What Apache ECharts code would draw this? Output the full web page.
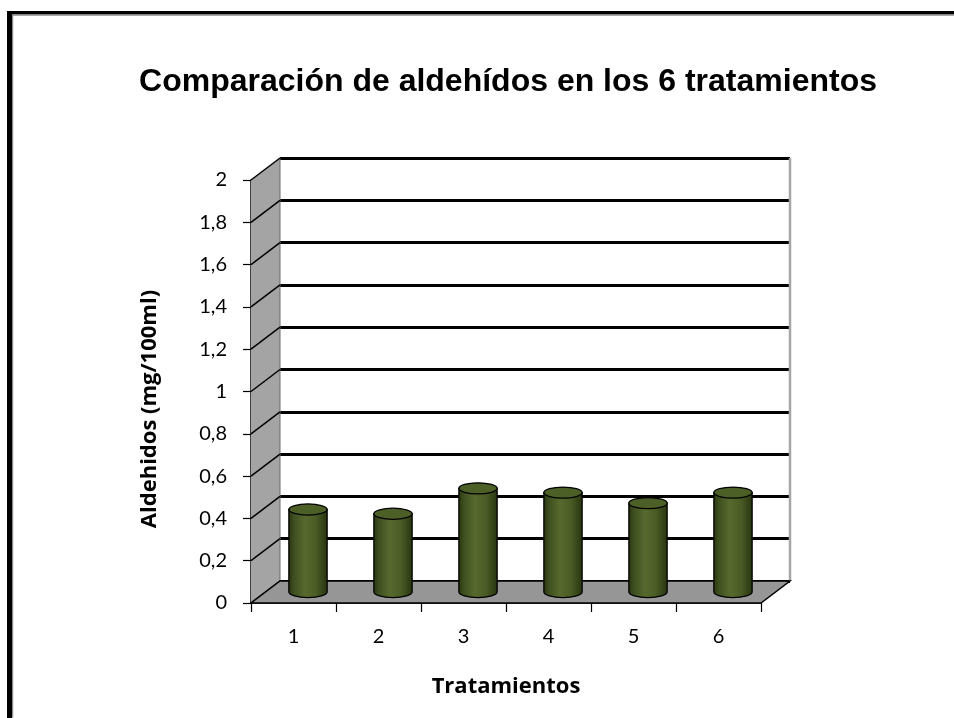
<!DOCTYPE html>
<html>
<head>
<meta charset="utf-8">
<script src="https://cdn.jsdelivr.net/npm/echarts@6/dist/echarts.min.js"></script>
<style>
html,body{margin:0;padding:0;background:#fff;}
#chart{width:954px;height:718px;}
</style>
</head>
<body>
<div id="chart"></div>
<script>
// ---- data ----
const categories = ['1', '2', '3', '4', '5', '6'];
const aldehidos = [0.39, 0.37, 0.49, 0.47, 0.42, 0.47];
const yTickValues = [0, 0.2, 0.4, 0.6, 0.8, 1, 1.2, 1.4, 1.6, 1.8, 2];
const titleText = 'Comparación de aldehídos en los 6 tratamientos';
const yName = 'Aldehidos (mg/100ml)';
const xName = 'Tratamientos';

// ---- layout / style ----
const DX = 29, DY = 22;
const FRONT = { left: 251, top: 180, width: 510, height: 423 };
const BACK = { left: FRONT.left + DX, top: FRONT.top - DY, width: FRONT.width, height: FRONT.height };
const labelFont = 'Lato, "Open Sans", sans-serif';
const nameFont = '"Open Sans", Lato, sans-serif';

const chart = echarts.init(document.getElementById('chart'), null, { renderer: 'canvas' });

function fmt(v) {
  return String(Math.round(v * 10) / 10).replace('.', ',');
}

const option = {
  backgroundColor: '#fff',
  animation: false,
  title: {
    text: titleText,
    left: 508,
    top: 66,
    textAlign: 'center',
    padding: 0,
    textStyle: { fontFamily: '"Liberation Sans", Arial, sans-serif', fontWeight: 'bold', fontSize: 32, color: '#000' }
  },
  graphic: [
    { type: 'rect', shape: { x: 7, y: 11, width: 5, height: 707 }, style: { fill: '#000' }, z: 10 },
    { type: 'rect', shape: { x: 7, y: 11, width: 947, height: 3.5 }, style: { fill: '#000' }, z: 10 },
    { type: 'rect', shape: { x: 12, y: 14.5, width: 1.2, height: 703 }, style: { fill: '#8c8c8c' }, z: 10 },
    { type: 'rect', shape: { x: 12, y: 14.5, width: 942, height: 1.2 }, style: { fill: '#8c8c8c' }, z: 10 }
  ],
  grid: [
    Object.assign({ containLabel: false }, FRONT),
    Object.assign({ containLabel: false }, BACK)
  ],
  xAxis: [
    {
      gridIndex: 0,
      type: 'category',
      data: categories,
      boundaryGap: true,
      axisLine: { show: true, lineStyle: { color: '#000', width: 1.5 } },
      axisTick: { show: true, length: 9, lineStyle: { color: '#000', width: 1.2 } },
      axisLabel: { margin: 24, fontFamily: labelFont, fontSize: 20, color: '#000' },
      splitLine: { show: false },
      name: xName,
      nameLocation: 'middle',
      nameGap: 73,
      nameTextStyle: { fontFamily: nameFont, fontWeight: 'bold', fontSize: 22, color: '#000' }
    },
    {
      gridIndex: 1,
      type: 'category',
      data: categories,
      show: false
    }
  ],
  yAxis: [
    {
      gridIndex: 0,
      type: 'value',
      min: 0,
      max: 2,
      interval: 0.2,
      axisLine: { show: true, lineStyle: { color: '#000', width: 1.5 } },
      axisTick: { show: true, length: 8, lineStyle: { color: '#000', width: 1.2 } },
      axisLabel: { margin: 24, fontFamily: labelFont, fontSize: 20, color: '#000', formatter: fmt },
      splitLine: { show: false },
      name: yName,
      nameLocation: 'middle',
      nameGap: 90,
      nameTextStyle: { fontFamily: nameFont, fontWeight: 'bold', fontSize: 22, color: '#000', padding: [0, 35, 0, 0] }
    },
    {
      gridIndex: 1,
      type: 'value',
      min: 0,
      max: 2,
      interval: 0.2,
      axisLine: { show: false },
      axisTick: { show: false },
      axisLabel: { show: false },
      splitLine: { show: true, lineStyle: { color: '#000', width: 3 } }
    }
  ],
  series: [
    {
      // walls and floor of the 3D frame
      type: 'custom',
      xAxisIndex: 0,
      yAxisIndex: 0,
      z: 1,
      silent: true,
      data: [[0, 0]],
      renderItem: function (params, api) {
        const cs = params.coordSys;
        const x0 = cs.x, y0 = cs.y, x1 = cs.x + cs.width, yb = cs.y + cs.height;
        const children = [];
        children.push({
          type: 'polygon',
          shape: { points: [[x0, yb], [x0, y0], [x0 + DX, y0 - DY], [x0 + DX, yb - DY]] },
          style: { fill: '#a4a4a4', stroke: null }
        });
        children.push({
          type: 'line',
          shape: { x1: x0 + DX, y1: y0 - DY, x2: x0 + DX, y2: yb - DY },
          style: { stroke: '#6a6a6a', lineWidth: 1 }
        });
        children.push({
          type: 'line',
          shape: { x1: x1 + DX, y1: y0 - DY, x2: x1 + DX, y2: yb - DY },
          style: { stroke: '#a6a6a6', lineWidth: 2.5 }
        });
        yTickValues.forEach(function (v) {
          const p = api.coord([0, v]);
          children.push({
            type: 'line',
            shape: { x1: x0, y1: p[1], x2: x0 + DX, y2: p[1] - DY },
            style: { stroke: '#000', lineWidth: 1.5 }
          });
        });
        children.push({
          type: 'polygon',
          shape: { points: [[x0, yb], [x1, yb], [x1 + DX, yb - DY], [x0 + DX, yb - DY]] },
          style: { fill: '#969696', stroke: '#000', lineWidth: 1.5 }
        });
        return { type: 'group', children: children };
      }
    },
    {
      // cylinders
      type: 'custom',
      name: 'Aldehidos',
      xAxisIndex: 0,
      yAxisIndex: 0,
      z: 5,
      data: aldehidos.map(function (v, i) { return [i, v]; }),
      renderItem: function (params, api) {
        const base = api.coord([api.value(0), 0]);
        const top = api.coord([api.value(0), api.value(1)]);
        const bw = api.size([1, 0])[0];
        const rx = bw * 0.225;
        const ry = rx * 0.29;
        const cx = base[0] + DX / 2;
        const by = base[1] - DY / 2;
        const ty = top[1] - DY / 2;
        const body = 'M' + (cx - rx) + ',' + ty +
          ' L' + (cx - rx) + ',' + by +
          ' A' + rx + ',' + ry + ' 0 0 0 ' + (cx + rx) + ',' + by +
          ' L' + (cx + rx) + ',' + ty + ' Z';
        const grad = new echarts.graphic.LinearGradient(0, 0, 1, 0, [
          { offset: 0, color: '#28340f' },
          { offset: 0.15, color: '#3f5020' },
          { offset: 0.42, color: '#57692e' },
          { offset: 0.7, color: '#4a5c25' },
          { offset: 1, color: '#27330f' }
        ]);
        return {
          type: 'group',
          children: [
            {
              type: 'path',
              shape: { pathData: body },
              style: { fill: grad, stroke: '#000', lineWidth: 1.3 }
            },
            {
              type: 'ellipse',
              shape: { cx: cx, cy: ty, rx: rx, ry: ry },
              style: { fill: '#4c5f26', stroke: '#000', lineWidth: 1.3 }
            }
          ]
        };
      }
    }
  ]
};

chart.setOption(option);
</script>
</body>
</html>
